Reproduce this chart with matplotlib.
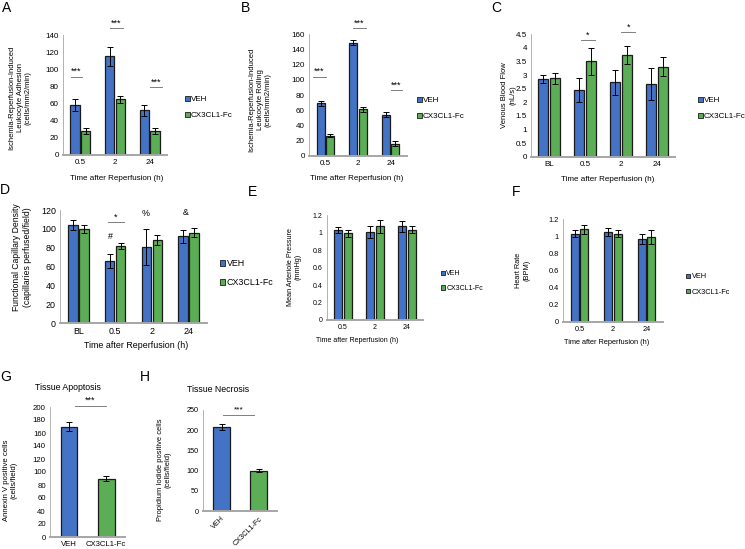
import numpy as np
import matplotlib
matplotlib.use("Agg")
import matplotlib.pyplot as plt
from matplotlib.patches import Patch

plt.rcParams['font.family'] = ['Liberation Sans', 'DejaVu Sans']

BLUE = "#4472C4"
GREEN = "#5BAE55"
EDGE = "#1b1b1b"
AXIS = "#a6a6a6"

# ---- data ----
times3 = ["0.5", "2", "24"]
times4 = ["BL", "0.5", "2", "24"]

adh_veh = [58, 115, 52]
adh_veh_err = [7, 11, 6]
adh_cx = [28, 65, 28]
adh_cx_err = [3, 4, 3]

roll_veh = [69, 149, 54]
roll_veh_err = [3, 3, 3]
roll_cx = [26, 61, 16]
roll_cx_err = [2, 3, 3]

flow_veh = [2.85, 2.45, 2.73, 2.68]
flow_veh_err = [0.15, 0.43, 0.45, 0.58]
flow_cx = [2.88, 3.5, 3.73, 3.3]
flow_cx_err = [0.2, 0.48, 0.33, 0.35]

fcd_veh = [104, 66, 81, 92]
fcd_veh_err = [5, 7, 19, 7]
fcd_cx = [100, 82, 88, 96]
fcd_cx_err = [4, 3, 5, 5]

map_veh = [1.03, 1.01, 1.07]
map_veh_err = [0.03, 0.07, 0.06]
map_cx = [0.99, 1.07, 1.03]
map_cx_err = [0.04, 0.07, 0.04]

hr_veh = [1.03, 1.05, 0.97]
hr_veh_err = [0.04, 0.05, 0.06]
hr_cx = [1.08, 1.03, 0.99]
hr_cx_err = [0.05, 0.04, 0.08]

groups = ["VEH", "CX3CL1-Fc"]
apop = [170, 90]
apop_err = [7, 4]
necro = [208, 100]
necro_err = [7, 4]

W, H = 745, 549
fig = plt.figure(figsize=(7.45, 5.49), dpi=100)


def rect(x0, x1, ytop, ybot):
    return [x0 / W, 1 - ybot / H, (x1 - x0) / W, (ybot - ytop) / H]


def style(ax, fs):
    for s in ["top", "right"]:
        ax.spines[s].set_visible(False)
    ax.spines["left"].set_color(AXIS)
    ax.spines["left"].set_linewidth(0.6)
    ax.spines["bottom"].set_color(AXIS)
    ax.spines["bottom"].set_linewidth(1.4)
    ax.tick_params(length=0, labelsize=fs, pad=3)
    ax.yaxis.set_major_formatter(matplotlib.ticker.FormatStrFormatter("%g"))


def grouped(box, cats, veh, veh_e, cx, cx_e, ylim, step, width, fs):
    ax = fig.add_axes(rect(*box))
    x = np.arange(len(cats))
    off = width / 2 + 0.02
    ekw = dict(ecolor="black", lw=0.7, capsize=2.2, capthick=0.7)
    ax.bar(x - off, veh, width, yerr=veh_e, color=BLUE, edgecolor=EDGE, lw=0.9, error_kw=ekw)
    ax.bar(x + off, cx, width, yerr=cx_e, color=GREEN, edgecolor=EDGE, lw=0.9, error_kw=ekw)
    ax.set_xlim(-0.5, len(cats) - 0.5)
    ax.set_ylim(0, ylim)
    ax.set_yticks(np.arange(0, ylim + step / 2, step))
    ax.set_xticks(x)
    ax.set_xticklabels(cats)
    style(ax, fs)
    return ax


def legend(ax, xpx, ypx, fs):
    h = [Patch(facecolor=BLUE, edgecolor=EDGE, lw=0.6),
         Patch(facecolor=GREEN, edgecolor=EDGE, lw=0.6)]
    ax.legend(h, groups, loc="center left", bbox_to_anchor=(xpx / W, 1 - ypx / H),
              bbox_transform=fig.transFigure, frameon=False, fontsize=fs,
              handlelength=0.6, handleheight=0.6, handletextpad=0.15,
              labelspacing=1.1, borderpad=0, borderaxespad=0)


def sig(ax, x0, x1, y, txt, dy, fs):
    ax.plot([x0, x1], [y, y], color="#7f7f7f", lw=0.7, clip_on=False)
    ax.text((x0 + x1) / 2, y + dy, txt, ha="center", va="bottom", fontsize=fs)


def ftext(xpx, ypx, s, fs, **kw):
    fig.text(xpx / W, 1 - ypx / H, s, fontsize=fs, ha="center", va="center", **kw)


# A
axA = grouped((63, 167, 35, 155), times3, adh_veh, adh_veh_err, adh_cx, adh_cx_err, 140, 20, 0.27, 5.8)
sig(axA, -0.28, 0.06, 91, "***", 1, 6.5)
sig(axA, 0.85, 1.23, 148, "***", 1, 6.5)
sig(axA, 2.0, 2.35, 79, "***", 1, 6.5)
legend(axA, 185, 107.5, 5.8)
ftext(117, 179, "Time after Reperfusion (h)", 5.8)
ftext(20, 98, "Ischemia-Reperfusion-Induced\nLeukocyte Adhesion\n(cells/mm2/min)", 5.5, rotation=90)

# B
axB = grouped((309, 407, 34.3, 155.7), times3, roll_veh, roll_veh_err, roll_cx, roll_cx_err, 160, 20, 0.25, 5.8)
sig(axB, -0.38, 0.02, 104, "***", 1, 6.5)
sig(axB, 0.85, 1.24, 168, "***", 1, 6.5)
sig(axB, 2.0, 2.35, 86, "***", 1, 6.5)
legend(axB, 417, 108.5, 5.8)
ftext(357, 179, "Time after Reperfusion (h)", 5.8)
ftext(260, 100, "Ischemia-Reperfusion-Induced\nLeukocyte Rolling\n(cells/mm2/min)", 5.5, rotation=90)

# C
axC = grouped((531, 675, 34.3, 156.7), times4, flow_veh, flow_veh_err, flow_cx, flow_cx_err, 4.5, 0.5, 0.28, 5.8)
sig(axC, 0.88, 1.28, 4.29, "*", 0.02, 6.5)
sig(axC, 2.0, 2.4, 4.57, "*", 0.02, 6.5)
legend(axC, 698, 108.5, 5.8)
ftext(608, 180, "Time after Reperfusion (h)", 5.8)
ftext(509, 95, "Venous Blood Flow\n(nL/s)", 5.5, rotation=90)

# D
axD = grouped((60, 207, 210, 323.3), times4, fcd_veh, fcd_veh_err, fcd_cx, fcd_cx_err, 120, 20, 0.26, 6.4)
sig(axD, 0.81, 1.24, 107, "*", 1, 6.5)
axD.text(0.86, 92, "#", ha="center", va="center", fontsize=6.4)
axD.text(1.83, 116, "%", ha="center", va="center", fontsize=6.4)
axD.text(2.92, 117, "&", ha="center", va="center", fontsize=6.4)
legend(axD, 220, 273, 6.4)
ftext(136, 346, "Time after Reperfusion (h)", 6.4)
ftext(22, 257, "Functional Capillary Density\n(capillaries perfused/field)", 6.2, rotation=90)

# E
axE = grouped((327, 423, 215, 320), times3, map_veh, map_veh_err, map_cx, map_cx_err, 1.2, 0.2, 0.25, 5.0)
legend(axE, 441, 281, 5.0)
ftext(357, 340, "Time after Reperfusion (h)", 5.0)
ftext(294, 267, "Mean Arteriole Pressure\n(mmHg)", 5.2, rotation=90)

# F
axF = grouped((563, 663, 219, 322), times3, hr_veh, hr_veh_err, hr_cx, hr_cx_err, 1.2, 0.2, 0.24, 5.3)
legend(axF, 686, 284.5, 5.3)
ftext(607, 342, "Time after Reperfusion (h)", 5.3)
ftext(523, 270, "Heart Rate\n(BPM)", 5.3, rotation=90)

# G
ekw = dict(ecolor="black", lw=0.7, capsize=2.5, capthick=0.7)
axG = fig.add_axes(rect(50, 125, 407, 537))
axG.bar([0, 1], apop, 0.44, yerr=apop_err, color=[BLUE, GREEN], edgecolor=EDGE, lw=0.9, error_kw=ekw)
axG.set_xlim(-0.5, 1.5)
axG.set_ylim(0, 200)
axG.set_yticks(np.arange(0, 201, 20))
axG.set_xticks([0, 1])
axG.set_xticklabels(groups)
style(axG, 5.6)
sig(axG, 0.17, 0.99, 202, "***", 2, 6.5)
ftext(68, 387, "Tissue Apoptosis", 6.3)
ftext(10.5, 480, "Annexin V positive cells\n(cells/field)", 5.6, rotation=90)

# H
axH = fig.add_axes(rect(203, 277, 410, 511))
axH.bar([0, 1], necro, 0.44, yerr=necro_err, color=[BLUE, GREEN], edgecolor=EDGE, lw=0.9, error_kw=ekw)
axH.set_xlim(-0.5, 1.5)
axH.set_ylim(0, 250)
axH.set_yticks(np.arange(0, 251, 50))
axH.set_xticks([0, 1])
axH.set_xticklabels(groups, rotation=45, ha="right", rotation_mode="anchor")
style(axH, 5.2)
sig(axH, 0.03, 0.88, 238, "***", 3, 6.0)
ftext(218, 389, "Tissue Necrosis", 6.3)
ftext(164.5, 470, "Propidium Iodide positive cells\n(cells/field)", 5.4, rotation=90)

# panel letters
for lab, xp, yp in [("A", 7, 8), ("B", 246, 8), ("C", 496, 8), ("D", 5, 190), ("E", 252, 192),
                    ("F", 516, 192), ("G", 6, 377), ("H", 145, 377)]:
    ftext(xp, yp, lab, 10)

fig.savefig("out.png", dpi=100)
